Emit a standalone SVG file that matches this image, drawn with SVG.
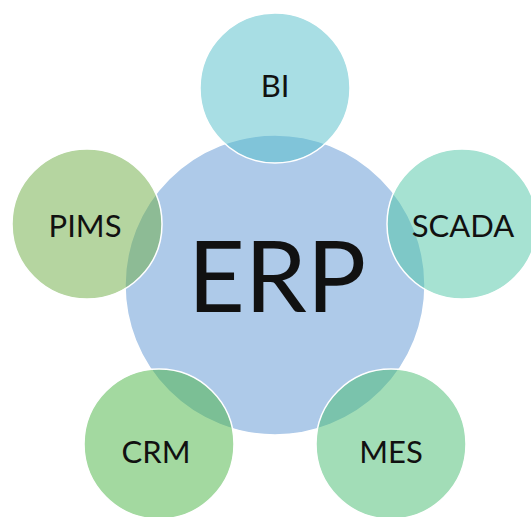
<svg xmlns="http://www.w3.org/2000/svg" width="531" height="517" viewBox="0 0 531 517">
<style>
.c{stroke:#ffffff;stroke-width:1.5}
.t{font-family:Lato,"Noto Sans",sans-serif;fill:#111111;text-anchor:middle}
.s{font-size:31px}
</style>
<rect width="531" height="517" fill="#ffffff"/>
<g id="connectors"></g>
<g id="erp"><circle class="c" cx="275" cy="285" r="150" fill="#aecae9"/><text class="t" x="277" y="312" font-size="99">ERP</text></g>
<g id="bi"><circle class="c" cx="275" cy="88" r="75" fill="#51bdc9" fill-opacity="0.5"/><text class="t s" x="275" y="97">BI</text></g>
<g id="scada"><circle class="c" cx="462" cy="224" r="75" fill="#4dc5a5" fill-opacity="0.5"/><text class="t s" x="463" y="237">SCADA</text></g>
<g id="mes"><circle class="c" cx="391" cy="444" r="75" fill="#45bb6f" fill-opacity="0.5"/><text class="t s" x="391" y="463">MES</text></g>
<g id="crm"><circle class="c" cx="159" cy="444" r="75" fill="#47b341" fill-opacity="0.5"/><text class="t s" x="156" y="463">CRM</text></g>
<g id="pims"><circle class="c" cx="87" cy="224" r="75" fill="#6bab41" fill-opacity="0.5"/><text class="t s" x="85" y="237">PIMS</text></g>
</svg>
